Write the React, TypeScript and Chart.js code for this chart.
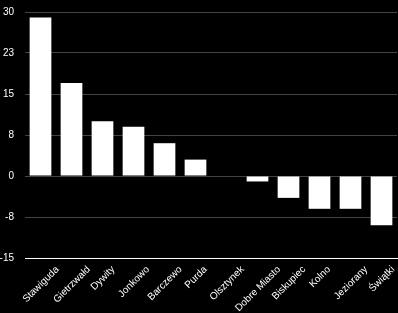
import React, { useEffect, useRef } from "react";
import { Chart, registerables } from "chart.js";

Chart.register(...registerables);

const categories = [
  "Stawiguda",
  "Gietrzwałd",
  "Dywity",
  "Jonkowo",
  "Barczewo",
  "Purda",
  "Olsztynek",
  "Dobre Miasto",
  "Biskupiec",
  "Kolno",
  "Jeziorany",
  "Świątki",
];
const values = [29, 17, 10, 9, 6, 3, 0, -1, -4, -6, -6, -9];
const yMin = -15;
const yMax = 30;
const yStep = 7.5;

const FONT = "'Liberation Sans', Arial, sans-serif";

const fmt = (v: number) => {
  const r = Math.sign(v) * Math.round(Math.abs(v));
  return String(r === 0 ? 0 : r);
};

// Draws the category labels rotated 45°, each centred under its tick
const centredRotatedLabels = {
  id: "centredRotatedLabels",
  afterDraw(chart: any) {
    const xs = chart.scales.x;
    const ctx = chart.ctx;
    const labels: string[] = chart.data.labels;
    ctx.save();
    ctx.font = `10px ${FONT}`;
    ctx.fillStyle = "#ffffff";
    ctx.textAlign = "center";
    ctx.textBaseline = "middle";
    labels.forEach((lab, i) => {
      const x = xs.getPixelForTick(i) + 0.5;
      const w = ctx.measureText(lab).width;
      const cy = xs.top + 7 + (w + 8) * Math.SQRT1_2 / 2;
      ctx.save();
      ctx.translate(x, cy);
      ctx.rotate(-Math.PI / 4);
      ctx.fillText(lab, 0, 0);
      ctx.restore();
    });
    ctx.restore();
  },
};

export default function App() {
  const ref = useRef<HTMLCanvasElement | null>(null);
  useEffect(() => {
    if (!ref.current) return;
    const chart = new Chart(ref.current, {
      type: "bar",
      data: {
        labels: categories,
        datasets: [
          {
            data: values,
            backgroundColor: "#ffffff",
            borderWidth: 0,
            categoryPercentage: 1,
            barPercentage: 0.7,
          },
        ],
      },
      plugins: [centredRotatedLabels],
      options: {
        animation: false,
        responsive: true,
        maintainAspectRatio: false,
        layout: { padding: { top: 0, right: 1, left: 0, bottom: 0 } },
        plugins: { legend: { display: false }, tooltip: { enabled: false } },
        scales: {
          x: {
            grid: { display: false, drawTicks: false },
            border: { display: true, color: "#ffffff", width: 1 },
            ticks: { display: false, autoSkip: false },
            afterFit: (s: any) => {
              s.paddingLeft = 0;
              s.paddingRight = 0;
              s.height = 55;
            },
          },
          y: {
            min: yMin,
            max: yMax,
            grid: {
              color: (c: any) => (c.tick && c.tick.value === yMin ? "#ffffff" : "#444444"),
              drawTicks: false,
            },
            border: { display: false },
            ticks: {
              stepSize: yStep,
              color: "#ffffff",
              font: { family: FONT, size: 10 },
              padding: 11,
              callback: (v: any) => fmt(Number(v)),
            },
            afterFit: (s: any) => {
              s.width = 25;
              s.paddingTop = 12;
            },
          },
        },
      },
    });
    return () => chart.destroy();
  }, []);
  return (
    <div
      style={{
        position: "fixed",
        left: 0,
        top: 0,
        width: 398,
        height: 313,
        background: "#000000",
      }}
    >
      <canvas ref={ref} />
    </div>
  );
}
